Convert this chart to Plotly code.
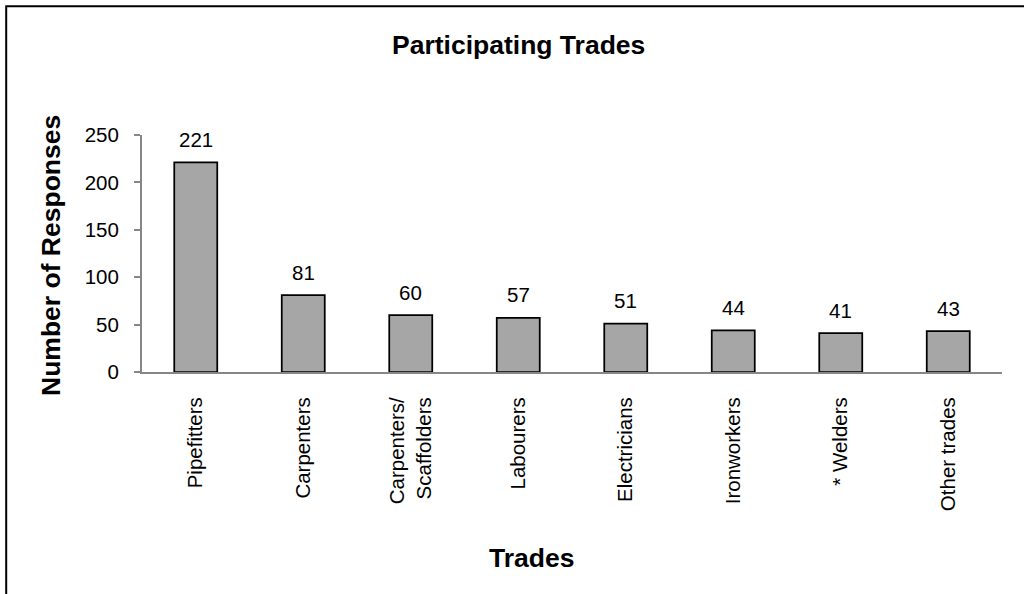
import plotly.graph_objects as go

# Survey responses by trade
trades = [
    "Pipefitters",
    "Carpenters",
    "Carpenters/<br>Scaffolders",
    "Labourers",
    "Electricians",
    "Ironworkers",
    "* Welders",
    "Other trades",
]
responses = [221, 81, 60, 57, 51, 44, 41, 43]
y_ticks = [0, 50, 100, 150, 200, 250]

FONT = "Liberation Sans, Arial, sans-serif"
AXIS_GREY = "#868686"
TICK_SIZE = 20.5
TITLE_SIZE = 26.5

fig = go.Figure(
    go.Bar(
        x=trades,
        y=responses,
        width=0.4,
        marker=dict(color="#a6a6a6", line=dict(color="#000000", width=1.75)),
        hoverinfo="x+y",
    )
)

# value labels above each bar
for t, v in zip(trades, responses):
    fig.add_annotation(
        x=t, y=v, text=str(v), showarrow=False,
        yanchor="middle", yshift=23,
        font=dict(family=FONT, size=TICK_SIZE, color="#000000"),
    )

# chart title and axis titles
fig.add_annotation(
    xref="paper", yref="paper", x=(518 - 142) / 860, y=(372 - 45) / 237,
    text="<b>Participating Trades</b>", showarrow=False,
    xanchor="center", yanchor="middle",
    font=dict(family=FONT, size=TITLE_SIZE, color="#000000"),
)
fig.add_annotation(
    xref="paper", yref="paper", x=(51 - 142) / 860, y=(372 - 256) / 237,
    text="<b>Number of Responses</b>", showarrow=False, textangle=-90,
    xanchor="center", yanchor="middle",
    font=dict(family=FONT, size=TITLE_SIZE, color="#000000"),
)
fig.add_annotation(
    xref="paper", yref="paper", x=(531 - 142) / 860, y=(372 - 558) / 237,
    text="<b>Trades</b>", showarrow=False,
    xanchor="center", yanchor="middle",
    font=dict(family=FONT, size=TITLE_SIZE, color="#000000"),
)

# outer chart frame
fig.add_shape(
    type="rect", xref="paper", yref="paper",
    x0=(6.2 - 142) / 860, x1=1.2, y0=-1.5, y1=(372 - 6.2) / 237,
    line=dict(color="#000000", width=2), fillcolor="rgba(0,0,0,0)",
    layer="below",
)

fig.update_layout(
    width=1024,
    height=594,
    margin=dict(l=142, r=22, t=135, b=222),
    paper_bgcolor="#ffffff",
    plot_bgcolor="#ffffff",
    showlegend=False,
    bargap=0.6,
    font=dict(family=FONT, size=TICK_SIZE, color="#000000"),
    xaxis=dict(
        type="category",
        tickangle=-90,
        showline=True,
        linecolor=AXIS_GREY,
        linewidth=2,
        ticks="",
        showgrid=False,
        zeroline=False,
        ticklabelstandoff=15,
        tickfont=dict(family=FONT, size=TICK_SIZE, color="#000000"),
        fixedrange=True,
    ),
    yaxis=dict(
        range=[0, 250],
        tickvals=y_ticks,
        showline=True,
        linecolor=AXIS_GREY,
        linewidth=2,
        ticks="outside",
        ticklen=6,
        tickwidth=2,
        tickcolor=AXIS_GREY,
        showgrid=False,
        zeroline=False,
        ticklabelstandoff=11,
        tickfont=dict(family=FONT, size=TICK_SIZE, color="#000000"),
        fixedrange=True,
    ),
)

fig.write_html("out.html", config={"displayModeBar": False})
